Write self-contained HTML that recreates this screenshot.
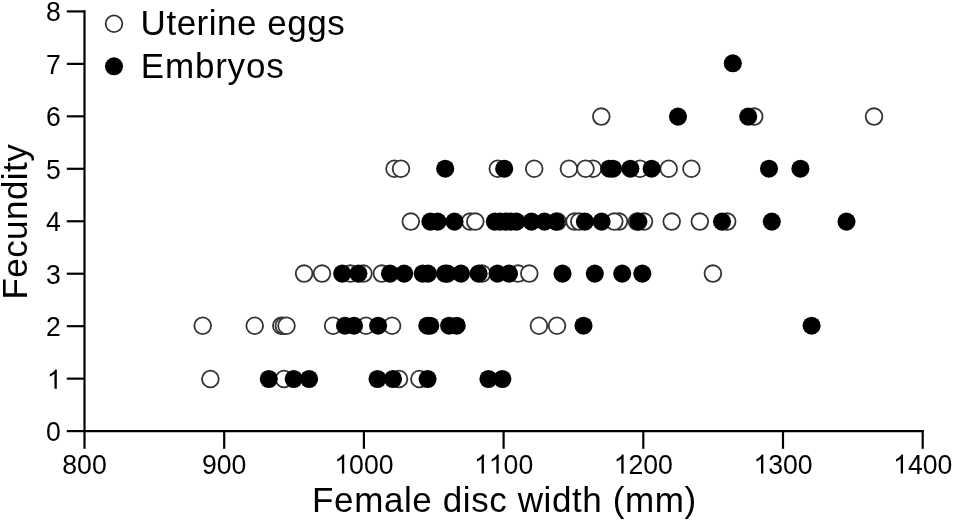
<!DOCTYPE html>
<html><head><meta charset="utf-8"><style>
html,body{margin:0;padding:0;background:#fff;}
body{width:955px;height:522px;overflow:hidden;}
svg{display:block;will-change:transform;}
text{font-family:"Liberation Sans",sans-serif;fill:#000;font-kerning:none;}
.tk{font-size:26.6px;}
.lg{font-size:35px;}
.ti{font-size:35px;}
</style></head><body>
<svg width="955" height="522" viewBox="0 0 955 522">
<rect width="955" height="522" fill="#fff"/>
<g>
<line x1="84.5" y1="10.320000000000016" x2="84.5" y2="432.1" stroke="#000" stroke-width="2.2"/>
<line x1="83.5" y1="431.1" x2="923.8" y2="431.1" stroke="#000" stroke-width="2.2"/>
<line x1="66.8" y1="431.10" x2="84.5" y2="431.10" stroke="#000" stroke-width="2.2"/>
<g transform="translate(46.10,441.10) scale(1,1.04)"><text x="0.00" y="0" class="tk">0</text></g>
<line x1="66.8" y1="378.64" x2="84.5" y2="378.64" stroke="#000" stroke-width="2.2"/>
<g transform="translate(46.90,388.64) scale(1,1.04)"><path transform="translate(0.00,0) scale(0.012988,-0.012489)" d="M763,0L583,0L583,1147C540,1106 483,1065 413,1024C343,983 280,952 224,931L224,1105C325,1152 413,1210 488,1277C563,1344 616,1409 647,1472L763,1472Z"/></g>
<line x1="66.8" y1="326.18" x2="84.5" y2="326.18" stroke="#000" stroke-width="2.2"/>
<g transform="translate(46.10,336.18) scale(1,1.04)"><text x="0.00" y="0" class="tk">2</text></g>
<line x1="66.8" y1="273.72" x2="84.5" y2="273.72" stroke="#000" stroke-width="2.2"/>
<g transform="translate(46.10,283.72) scale(1,1.04)"><text x="0.00" y="0" class="tk">3</text></g>
<line x1="66.8" y1="221.26" x2="84.5" y2="221.26" stroke="#000" stroke-width="2.2"/>
<g transform="translate(46.10,231.26) scale(1,1.04)"><text x="0.00" y="0" class="tk">4</text></g>
<line x1="66.8" y1="168.80" x2="84.5" y2="168.80" stroke="#000" stroke-width="2.2"/>
<g transform="translate(46.10,178.80) scale(1,1.04)"><text x="0.00" y="0" class="tk">5</text></g>
<line x1="66.8" y1="116.34" x2="84.5" y2="116.34" stroke="#000" stroke-width="2.2"/>
<g transform="translate(46.10,126.34) scale(1,1.04)"><text x="0.00" y="0" class="tk">6</text></g>
<line x1="66.8" y1="63.88" x2="84.5" y2="63.88" stroke="#000" stroke-width="2.2"/>
<g transform="translate(46.10,73.88) scale(1,1.04)"><text x="0.00" y="0" class="tk">7</text></g>
<line x1="66.8" y1="11.42" x2="84.5" y2="11.42" stroke="#000" stroke-width="2.2"/>
<g transform="translate(46.10,21.42) scale(1,1.04)"><text x="0.00" y="0" class="tk">8</text></g>
<line x1="84.50" y1="431.1" x2="84.50" y2="448.8" stroke="#000" stroke-width="2.2"/>
<g transform="translate(62.31,473.60) scale(1,1.04)"><text x="0.00" y="0" class="tk">8</text><text x="14.79" y="0" class="tk">0</text><text x="29.59" y="0" class="tk">0</text></g>
<line x1="224.20" y1="431.1" x2="224.20" y2="448.8" stroke="#000" stroke-width="2.2"/>
<g transform="translate(202.01,473.60) scale(1,1.04)"><text x="0.00" y="0" class="tk">9</text><text x="14.79" y="0" class="tk">0</text><text x="29.59" y="0" class="tk">0</text></g>
<line x1="363.90" y1="431.1" x2="363.90" y2="448.8" stroke="#000" stroke-width="2.2"/>
<g transform="translate(334.31,473.60) scale(1,1.04)"><path transform="translate(0.00,0) scale(0.012988,-0.012489)" d="M763,0L583,0L583,1147C540,1106 483,1065 413,1024C343,983 280,952 224,931L224,1105C325,1152 413,1210 488,1277C563,1344 616,1409 647,1472L763,1472Z"/><text x="14.79" y="0" class="tk">0</text><text x="29.59" y="0" class="tk">0</text><text x="44.38" y="0" class="tk">0</text></g>
<line x1="503.60" y1="431.1" x2="503.60" y2="448.8" stroke="#000" stroke-width="2.2"/>
<g transform="translate(474.01,473.60) scale(1,1.04)"><path transform="translate(0.00,0) scale(0.012988,-0.012489)" d="M763,0L583,0L583,1147C540,1106 483,1065 413,1024C343,983 280,952 224,931L224,1105C325,1152 413,1210 488,1277C563,1344 616,1409 647,1472L763,1472Z"/><path transform="translate(14.79,0) scale(0.012988,-0.012489)" d="M763,0L583,0L583,1147C540,1106 483,1065 413,1024C343,983 280,952 224,931L224,1105C325,1152 413,1210 488,1277C563,1344 616,1409 647,1472L763,1472Z"/><text x="29.59" y="0" class="tk">0</text><text x="44.38" y="0" class="tk">0</text></g>
<line x1="643.30" y1="431.1" x2="643.30" y2="448.8" stroke="#000" stroke-width="2.2"/>
<g transform="translate(613.71,473.60) scale(1,1.04)"><path transform="translate(0.00,0) scale(0.012988,-0.012489)" d="M763,0L583,0L583,1147C540,1106 483,1065 413,1024C343,983 280,952 224,931L224,1105C325,1152 413,1210 488,1277C563,1344 616,1409 647,1472L763,1472Z"/><text x="14.79" y="0" class="tk">2</text><text x="29.59" y="0" class="tk">0</text><text x="44.38" y="0" class="tk">0</text></g>
<line x1="783.00" y1="431.1" x2="783.00" y2="448.8" stroke="#000" stroke-width="2.2"/>
<g transform="translate(753.41,473.60) scale(1,1.04)"><path transform="translate(0.00,0) scale(0.012988,-0.012489)" d="M763,0L583,0L583,1147C540,1106 483,1065 413,1024C343,983 280,952 224,931L224,1105C325,1152 413,1210 488,1277C563,1344 616,1409 647,1472L763,1472Z"/><text x="14.79" y="0" class="tk">3</text><text x="29.59" y="0" class="tk">0</text><text x="44.38" y="0" class="tk">0</text></g>
<line x1="922.70" y1="431.1" x2="922.70" y2="448.8" stroke="#000" stroke-width="2.2"/>
<g transform="translate(893.11,473.60) scale(1,1.04)"><path transform="translate(0.00,0) scale(0.012988,-0.012489)" d="M763,0L583,0L583,1147C540,1106 483,1065 413,1024C343,983 280,952 224,931L224,1105C325,1152 413,1210 488,1277C563,1344 616,1409 647,1472L763,1472Z"/><text x="14.79" y="0" class="tk">4</text><text x="29.59" y="0" class="tk">0</text><text x="44.38" y="0" class="tk">0</text></g>
<circle cx="210.4" cy="379.0" r="8.35" fill="#fff" stroke="#333" stroke-width="1.8"/>
<circle cx="284" cy="379.0" r="8.35" fill="#fff" stroke="#333" stroke-width="1.8"/>
<circle cx="399" cy="379.0" r="8.35" fill="#fff" stroke="#333" stroke-width="1.8"/>
<circle cx="419.4" cy="379.0" r="8.35" fill="#fff" stroke="#333" stroke-width="1.8"/>
<circle cx="202.7" cy="325.7" r="8.35" fill="#fff" stroke="#333" stroke-width="1.8"/>
<circle cx="254.7" cy="325.7" r="8.35" fill="#fff" stroke="#333" stroke-width="1.8"/>
<circle cx="281.3" cy="325.7" r="8.35" fill="#fff" stroke="#333" stroke-width="1.8"/>
<circle cx="283.8" cy="325.7" r="8.35" fill="#fff" stroke="#333" stroke-width="1.8"/>
<circle cx="286.5" cy="325.7" r="8.35" fill="#fff" stroke="#333" stroke-width="1.8"/>
<circle cx="333.1" cy="325.7" r="8.35" fill="#fff" stroke="#333" stroke-width="1.8"/>
<circle cx="366.0" cy="325.7" r="8.35" fill="#fff" stroke="#333" stroke-width="1.8"/>
<circle cx="392.1" cy="325.7" r="8.35" fill="#fff" stroke="#333" stroke-width="1.8"/>
<circle cx="538.9" cy="325.7" r="8.35" fill="#fff" stroke="#333" stroke-width="1.8"/>
<circle cx="557.0" cy="325.7" r="8.35" fill="#fff" stroke="#333" stroke-width="1.8"/>
<circle cx="304.1" cy="273.6" r="8.35" fill="#fff" stroke="#333" stroke-width="1.8"/>
<circle cx="322.0" cy="273.6" r="8.35" fill="#fff" stroke="#333" stroke-width="1.8"/>
<circle cx="350.4" cy="273.6" r="8.35" fill="#fff" stroke="#333" stroke-width="1.8"/>
<circle cx="363.4" cy="273.6" r="8.35" fill="#fff" stroke="#333" stroke-width="1.8"/>
<circle cx="381.8" cy="273.6" r="8.35" fill="#fff" stroke="#333" stroke-width="1.8"/>
<circle cx="482" cy="273.6" r="8.35" fill="#fff" stroke="#333" stroke-width="1.8"/>
<circle cx="518" cy="273.6" r="8.35" fill="#fff" stroke="#333" stroke-width="1.8"/>
<circle cx="529.3" cy="273.6" r="8.35" fill="#fff" stroke="#333" stroke-width="1.8"/>
<circle cx="712.9" cy="273.6" r="8.35" fill="#fff" stroke="#333" stroke-width="1.8"/>
<circle cx="410.8" cy="221.6" r="8.35" fill="#fff" stroke="#333" stroke-width="1.8"/>
<circle cx="470.2" cy="221.6" r="8.35" fill="#fff" stroke="#333" stroke-width="1.8"/>
<circle cx="475.3" cy="221.6" r="8.35" fill="#fff" stroke="#333" stroke-width="1.8"/>
<circle cx="557.5" cy="221.6" r="8.35" fill="#fff" stroke="#333" stroke-width="1.8"/>
<circle cx="574.6" cy="221.6" r="8.35" fill="#fff" stroke="#333" stroke-width="1.8"/>
<circle cx="579.3" cy="221.6" r="8.35" fill="#fff" stroke="#333" stroke-width="1.8"/>
<circle cx="619" cy="221.6" r="8.35" fill="#fff" stroke="#333" stroke-width="1.8"/>
<circle cx="614.3" cy="221.6" r="8.35" fill="#fff" stroke="#333" stroke-width="1.8"/>
<circle cx="637" cy="221.6" r="8.35" fill="#fff" stroke="#333" stroke-width="1.8"/>
<circle cx="644" cy="221.6" r="8.35" fill="#fff" stroke="#333" stroke-width="1.8"/>
<circle cx="671.7" cy="221.6" r="8.35" fill="#fff" stroke="#333" stroke-width="1.8"/>
<circle cx="699.8" cy="221.6" r="8.35" fill="#fff" stroke="#333" stroke-width="1.8"/>
<circle cx="727.2" cy="221.6" r="8.35" fill="#fff" stroke="#333" stroke-width="1.8"/>
<circle cx="394.5" cy="168.7" r="8.35" fill="#fff" stroke="#333" stroke-width="1.8"/>
<circle cx="401" cy="168.7" r="8.35" fill="#fff" stroke="#333" stroke-width="1.8"/>
<circle cx="497.8" cy="168.7" r="8.35" fill="#fff" stroke="#333" stroke-width="1.8"/>
<circle cx="534.2" cy="168.7" r="8.35" fill="#fff" stroke="#333" stroke-width="1.8"/>
<circle cx="568.9" cy="168.7" r="8.35" fill="#fff" stroke="#333" stroke-width="1.8"/>
<circle cx="593" cy="168.7" r="8.35" fill="#fff" stroke="#333" stroke-width="1.8"/>
<circle cx="585.5" cy="168.7" r="8.35" fill="#fff" stroke="#333" stroke-width="1.8"/>
<circle cx="640" cy="168.7" r="8.35" fill="#fff" stroke="#333" stroke-width="1.8"/>
<circle cx="668.7" cy="168.7" r="8.35" fill="#fff" stroke="#333" stroke-width="1.8"/>
<circle cx="691.4" cy="168.7" r="8.35" fill="#fff" stroke="#333" stroke-width="1.8"/>
<circle cx="601.3" cy="116.6" r="8.35" fill="#fff" stroke="#333" stroke-width="1.8"/>
<circle cx="754.2" cy="116.6" r="8.35" fill="#fff" stroke="#333" stroke-width="1.8"/>
<circle cx="874" cy="116.6" r="8.35" fill="#fff" stroke="#333" stroke-width="1.8"/>
<circle cx="268.8" cy="379.0" r="9.05" fill="#000"/>
<circle cx="293.7" cy="379.0" r="9.05" fill="#000"/>
<circle cx="309.1" cy="379.0" r="9.05" fill="#000"/>
<circle cx="377.5" cy="379.0" r="9.05" fill="#000"/>
<circle cx="393" cy="379.0" r="9.05" fill="#000"/>
<circle cx="427.6" cy="379.0" r="9.05" fill="#000"/>
<circle cx="488.4" cy="379.0" r="9.05" fill="#000"/>
<circle cx="502.4" cy="379.0" r="9.05" fill="#000"/>
<circle cx="345.0" cy="325.7" r="9.05" fill="#000"/>
<circle cx="354.0" cy="325.7" r="9.05" fill="#000"/>
<circle cx="378.1" cy="325.7" r="9.05" fill="#000"/>
<circle cx="427.3" cy="325.7" r="9.05" fill="#000"/>
<circle cx="430.3" cy="325.7" r="9.05" fill="#000"/>
<circle cx="449.1" cy="325.7" r="9.05" fill="#000"/>
<circle cx="456.7" cy="325.7" r="9.05" fill="#000"/>
<circle cx="583.5" cy="325.7" r="9.05" fill="#000"/>
<circle cx="811.6" cy="325.7" r="9.05" fill="#000"/>
<circle cx="342.2" cy="273.6" r="9.05" fill="#000"/>
<circle cx="358.4" cy="273.6" r="9.05" fill="#000"/>
<circle cx="390" cy="273.6" r="9.05" fill="#000"/>
<circle cx="404.2" cy="273.6" r="9.05" fill="#000"/>
<circle cx="422.7" cy="273.6" r="9.05" fill="#000"/>
<circle cx="428" cy="273.6" r="9.05" fill="#000"/>
<circle cx="445" cy="273.6" r="9.05" fill="#000"/>
<circle cx="447.5" cy="273.6" r="9.05" fill="#000"/>
<circle cx="461" cy="273.6" r="9.05" fill="#000"/>
<circle cx="478.6" cy="273.6" r="9.05" fill="#000"/>
<circle cx="497.5" cy="273.6" r="9.05" fill="#000"/>
<circle cx="509" cy="273.6" r="9.05" fill="#000"/>
<circle cx="562.5" cy="273.6" r="9.05" fill="#000"/>
<circle cx="594.8" cy="273.6" r="9.05" fill="#000"/>
<circle cx="622.2" cy="273.6" r="9.05" fill="#000"/>
<circle cx="642.3" cy="273.6" r="9.05" fill="#000"/>
<circle cx="430.4" cy="221.6" r="9.05" fill="#000"/>
<circle cx="437.6" cy="221.6" r="9.05" fill="#000"/>
<circle cx="454.5" cy="221.6" r="9.05" fill="#000"/>
<circle cx="494.8" cy="221.6" r="9.05" fill="#000"/>
<circle cx="500" cy="221.6" r="9.05" fill="#000"/>
<circle cx="505.5" cy="221.6" r="9.05" fill="#000"/>
<circle cx="511" cy="221.6" r="9.05" fill="#000"/>
<circle cx="516.4" cy="221.6" r="9.05" fill="#000"/>
<circle cx="531.5" cy="221.6" r="9.05" fill="#000"/>
<circle cx="544.5" cy="221.6" r="9.05" fill="#000"/>
<circle cx="556" cy="221.6" r="9.05" fill="#000"/>
<circle cx="584.9" cy="221.6" r="9.05" fill="#000"/>
<circle cx="601.6" cy="221.6" r="9.05" fill="#000"/>
<circle cx="638.4" cy="221.6" r="9.05" fill="#000"/>
<circle cx="722" cy="221.6" r="9.05" fill="#000"/>
<circle cx="771.8" cy="221.6" r="9.05" fill="#000"/>
<circle cx="846.5" cy="221.6" r="9.05" fill="#000"/>
<circle cx="445.2" cy="168.7" r="9.05" fill="#000"/>
<circle cx="504.2" cy="168.7" r="9.05" fill="#000"/>
<circle cx="609.3" cy="168.7" r="9.05" fill="#000"/>
<circle cx="613.0" cy="168.7" r="9.05" fill="#000"/>
<circle cx="630.4" cy="168.7" r="9.05" fill="#000"/>
<circle cx="651.6" cy="168.7" r="9.05" fill="#000"/>
<circle cx="769" cy="168.7" r="9.05" fill="#000"/>
<circle cx="800.4" cy="168.7" r="9.05" fill="#000"/>
<circle cx="678" cy="116.6" r="9.05" fill="#000"/>
<circle cx="748.2" cy="116.6" r="9.05" fill="#000"/>
<circle cx="732.8" cy="63.3" r="9.05" fill="#000"/>
<circle cx="114" cy="23.8" r="8.35" fill="#fff" stroke="#333" stroke-width="1.8"/>
<circle cx="114" cy="66.3" r="9.05" fill="#000"/>
<text x="140.6" y="35.4" class="lg" letter-spacing="0.52">Uterine eggs</text>
<text x="140.8" y="77.8" class="lg" letter-spacing="0.8">Embryos</text>
<text x="312.1" y="511.7" class="ti" letter-spacing="0.6">Female disc width (mm)</text>
<text transform="translate(26.5,299.6) rotate(-90)" x="0" y="0" class="ti" letter-spacing="0.45">Fecundity</text>
</g>
</svg>
</body></html>
